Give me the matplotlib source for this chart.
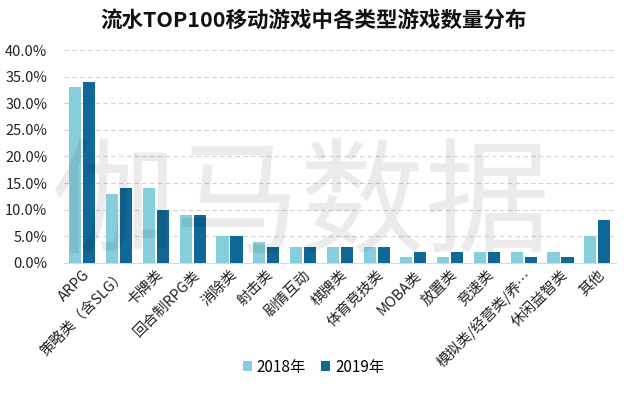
import matplotlib
matplotlib.use("Agg")
import matplotlib.pyplot as plt
import numpy as np
from matplotlib.ticker import FuncFormatter, MultipleLocator

plt.rcParams['font.family'] = ['Noto Sans CJK SC', 'DejaVu Sans']

categories = ["ARPG", "策略类（含SLG）", "卡牌类", "回合制RPG类", "消除类", "射击类", "剧情互动",
              "棋牌类", "体育竞技类", "MOBA类", "放置类", "竞速类", "模拟类/经营类/养…", "休闲益智类", "其他"]
v2018 = [33, 13, 14, 9, 5, 4, 3, 3, 3, 1, 1, 2, 2, 2, 5]
v2019 = [34, 14, 10, 9, 5, 3, 3, 3, 3, 2, 2, 2, 1, 1, 8]
series_names = ["2018年", "2019年"]
title = "流水TOP100移动游戏中各类型游戏数量分布"

c_light = "#86cedc"
c_dark = "#0f6896"

fig = plt.figure(figsize=(6.4, 3.94), dpi=100)
ax = fig.add_axes([0.10, 0.333, 0.862, 0.540])

x = np.arange(len(categories))
w = 0.33
ax.bar(x - w/2 - 0.025, v2018, width=w, color=c_light, label=series_names[0], zorder=3)
ax.bar(x + w/2 + 0.025, v2019, width=w, color=c_dark, label=series_names[1], zorder=3)

ax.set_xlim(-0.5, len(categories) - 0.5)
ax.set_ylim(0, 40)
ax.yaxis.set_major_locator(MultipleLocator(5))
ax.yaxis.set_major_formatter(FuncFormatter(lambda v, p: f"{v:.1f}%"))
ax.grid(axis='y', linestyle=(0, (4, 3)), color='#d0d0d0', linewidth=0.8, zorder=0)
for s in ['top', 'right', 'left']:
    ax.spines[s].set_visible(False)
ax.spines['bottom'].set_color('#d9d9d9')
ax.tick_params(axis='both', length=0)
ax.tick_params(axis='y', labelsize=10.5, colors='#222222', pad=12)
ax.set_xticks(x)
ax.set_xticklabels(categories, rotation=45, ha='right', rotation_mode='anchor', fontsize=10.5, color='#222222')

fig.text(0.49, 0.948, title, ha='center', va='center', fontsize=15.5, fontweight='bold', color='#111111')

# watermark
fig.text(0.47, 0.475, "伽马数据", ha='center', va='center', fontsize=90, color='#000000', alpha=0.08, zorder=10)

fig.legend(loc='center', bbox_to_anchor=(0.49, 0.068), ncol=2, frameon=False, fontsize=11,
           handlelength=0.6, handleheight=0.6, handletextpad=0.3, columnspacing=1.0)

fig.savefig("out.png", dpi=100)
